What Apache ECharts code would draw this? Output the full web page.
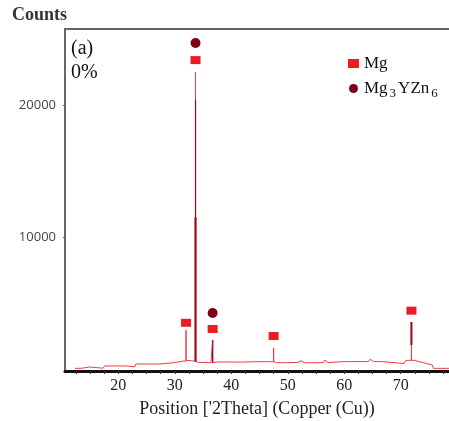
<!DOCTYPE html>
<html>
<head>
<meta charset="utf-8">
<script src="https://cdn.jsdelivr.net/npm/echarts@6/dist/echarts.min.js"></script>
<style>
  html, body { margin: 0; padding: 0; background: #fff; }
  #chart { width: 449px; height: 421px; }
</style>
</head>
<body>
<div id="chart"></div>
<script>
// Background trace of the diffractogram (2Theta, counts)
const bgTheta = [12.3, 13.4, 13.6, 14.9, 15.0, 17.3, 17.6, 21.5, 21.8, 22.9, 23.1, 27.3, 27.5, 29.9, 30.1, 31.5,
  32.5, 33.3, 34.2, 36.4, 37.0, 37.5, 40.0, 41.8, 44.0, 47.0, 48.0, 50.0, 51.8, 52.3, 53.0, 56.3, 56.6, 57.0,
  60.0, 60.2, 61.0, 64.3, 64.6, 65.2, 66.6, 66.8, 70.6, 70.9, 72.5, 73.3, 73.5, 74.5, 74.7, 75.6, 75.8, 78.55];
const bgCounts = [50, 50, 150, 150, 60, 60, 230, 230, 160, 160, 380, 380, 480, 480, 620, 600,
  650, 600, 500, 480, 350, 530, 530, 520, 550, 550, 480, 480, 500, 620, 480, 480, 680, 480,
  560, 700, 560, 560, 740, 560, 560, 420, 420, 650, 650, 550, 430, 430, 300, 300, 50, 50];

// Reflections: position, baseline under the reflection, peak top
const peakTheta = [31.99, 33.67, 36.7, 47.5, 71.9];
const peakBase = [610, 580, 480, 550, 660];
const peakTop = [2950, 22500, 2200, 1600, 3560];

// Darker overlaid segments of some reflections: position, from, to, width
const darkTheta = [33.67, 33.67, 36.7, 71.9];
const darkFrom = [580, 11500, 480, 1820];
const darkTo = [11500, 20400, 2200, 3560];
const darkWidth = [2.2, 1.2, 1.3, 2];

// Phase markers
const mgMarks = [[31.99, 3500], [33.67, 23400], [36.7, 3030], [47.5, 2500], [71.9, 4420]];
const mg3yzn6Marks = [[33.67, 24700], [36.7, 4240]];

// Axis ticks and labels
const xLabelValues = [20, 30, 40, 50, 60, 70];
const xTickValues = [12.5, 15, 17.5, 20, 22.5, 25, 27.5, 30, 32.5, 35, 37.5, 40, 42.5, 45, 47.5, 50,
  52.5, 55, 57.5, 60, 62.5, 65, 67.5, 70, 72.5, 75, 77.5];
const yLabelValues = [10000, 20000];

// Build the full trace: background with spikes inserted at the reflections
const trace = [];
const allPts = bgTheta.map((t, i) => ({ t: t, v: bgCounts[i], spike: false }));
peakTheta.forEach((t, i) => allPts.push({ t: t, v: peakBase[i], top: peakTop[i], spike: true }));
allPts.sort((a, b) => a.t - b.t);
allPts.forEach(p => {
  if (p.spike) {
    trace.push([p.t, p.v]);
    trace.push([p.t, p.top]);
    trace.push([p.t, p.v]);
  } else {
    trace.push([p.t, p.v]);
  }
});

const serif = '"Liberation Serif", "DejaVu Serif", serif';

const darkSeries = darkTheta.map((t, i) => ({
  type: 'line',
  data: [[t, darkFrom[i]], [t, darkTo[i]]],
  symbol: 'none',
  lineStyle: { color: '#9a0a1c', width: darkWidth[i] },
  silent: true,
  z: 3
}));

const chart = echarts.init(document.getElementById('chart'), null, { renderer: 'canvas' });
chart.setOption({
  animation: false,
  backgroundColor: '#fff',
  grid: { left: 65, top: 29, right: 0, bottom: 50, outerBoundsMode: 'none', containLabel: false },
  title: {
    text: 'Counts',
    left: 12, top: 6, padding: 0,
    textStyle: { fontFamily: serif, fontWeight: 'bold', fontSize: 18, color: '#333' }
  },
  graphic: [
    { type: 'text', left: 71, top: 39, style: { text: '(a)', font: '20px ' + serif, fill: '#111' } },
    { type: 'text', left: 71, top: 63, style: { text: '0%', font: '20px ' + serif, fill: '#111' } }
  ],
  legend: {
    orient: 'vertical',
    left: 343, top: 50,
    itemWidth: 11, itemHeight: 9,
    itemGap: 8,
    textStyle: {
      fontFamily: serif, fontSize: 17, color: '#111',
      rich: {
        n: { fontFamily: serif, fontSize: 17, color: '#111' },
        s: { fontFamily: serif, fontSize: 13, color: '#111', padding: [10, 2, 0, 2] }
      }
    },
    formatter: function (name) {
      if (name === 'Mg3YZn6') return '{n|Mg}{s|3}{n|YZn}{s|6}';
      return '{n|' + name + '}';
    },
    data: [
      { name: 'Mg', icon: 'rect', itemStyle: { color: '#ec1c24', opacity: 1 } },
      { name: 'Mg3YZn6', icon: 'circle', itemStyle: { color: '#800018', opacity: 1 } }
    ]
  },
  xAxis: [{
    type: 'value',
    min: 10.56, max: 78.55,
    name: "Position ['2Theta] (Copper (Cu))",
    nameLocation: 'middle',
    nameGap: 29,
    nameTextStyle: { fontFamily: serif, fontSize: 18, color: '#222' },
    axisLine: { show: true, onZero: false, lineStyle: { color: '#111', width: 3 } },
    axisTick: { show: true, length: 3, customValues: xTickValues, lineStyle: { color: '#333', width: 1 } },
    axisLabel: { customValues: xLabelValues, margin: 7, fontFamily: serif, fontSize: 16, color: '#222' },
    splitLine: { show: false }
  }, {
    type: 'value',
    position: 'top',
    min: 10.56, max: 78.55,
    axisLine: { show: true, onZero: false, lineStyle: { color: '#666', width: 2 } },
    axisTick: { show: false },
    axisLabel: { show: false },
    splitLine: { show: false }
  }],
  yAxis: {
    type: 'value',
    min: -152, max: 25757,
    axisLine: { show: true, onZero: false, lineStyle: { color: '#666', width: 2 } },
    axisTick: { show: true, length: 2, customValues: yLabelValues, lineStyle: { color: '#555' } },
    axisLabel: {
      customValues: yLabelValues, margin: 9,
      formatter: v => String(v),
      fontFamily: '"Open Sans", sans-serif', fontSize: 13, color: '#444'
    },
    splitLine: { show: false }
  },
  series: [
    {
      name: 'trace',
      type: 'line',
      data: trace,
      symbol: 'none',
      lineStyle: { color: '#ec3a48', width: 1 },
      silent: true,
      z: 2
    },
    ...darkSeries,
    {
      name: 'Mg',
      type: 'scatter',
      data: mgMarks,
      symbol: 'rect',
      symbolSize: [10, 8],
      itemStyle: { color: '#ec1c24', opacity: 1 },
      z: 5
    },
    {
      name: 'Mg3YZn6',
      type: 'scatter',
      data: mg3yzn6Marks,
      symbol: 'circle',
      symbolSize: 10,
      itemStyle: { color: '#800018', opacity: 1 },
      z: 5
    }
  ]
});
</script>
</body>
</html>
